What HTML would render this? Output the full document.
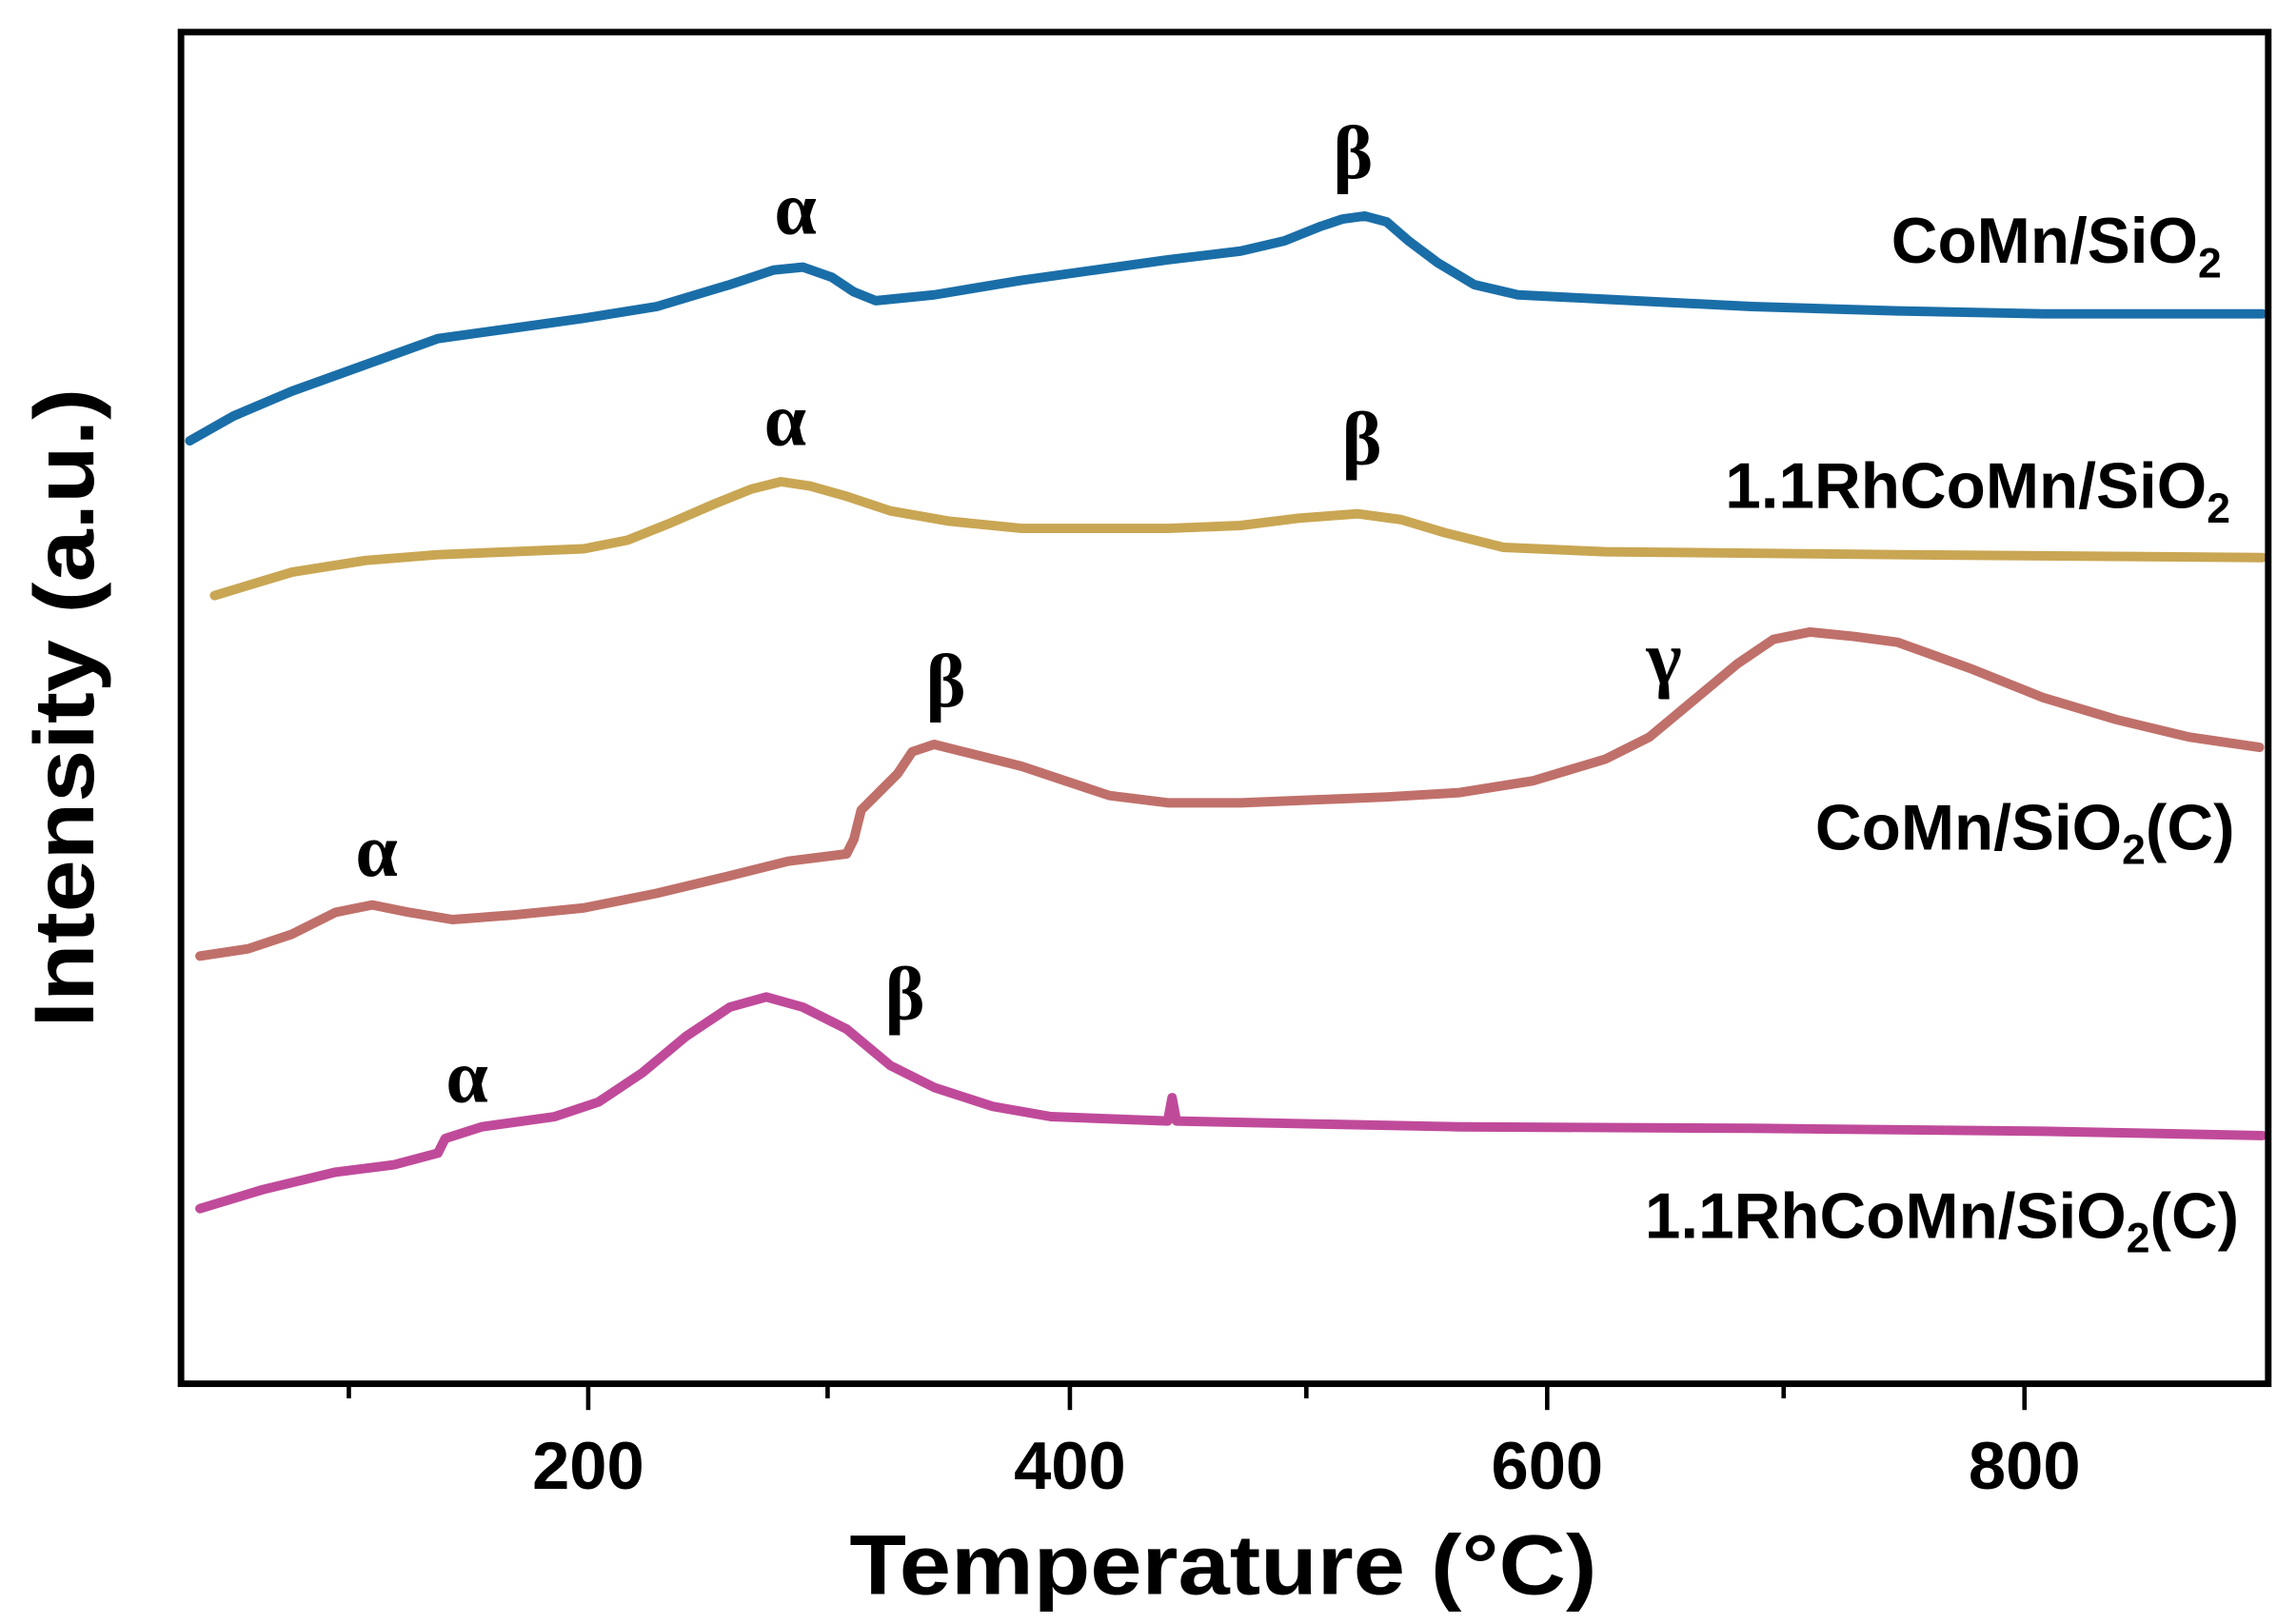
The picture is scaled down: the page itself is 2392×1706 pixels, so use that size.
<!DOCTYPE html>
<html><head><meta charset="utf-8"><style>html,body{margin:0;padding:0;background:#fff}svg{display:block}</style></head>
<body>
<svg width="2392" height="1706" viewBox="0 0 1560 1112.6" xmlns="http://www.w3.org/2000/svg">
<rect x="0" y="0" width="1560" height="1112.6" fill="#fff"/>
<g fill="none" stroke-width="6.5" stroke-linejoin="round" stroke-linecap="round">
<polyline stroke="#1a6ea8" points="130,302 160,285 200,268 250,250 300,232 350,225 400,218 450,210 500,195 530,185 550,183 570,190 585,200 600,206 640,202 700,192 750,185 800,178 850,172 880,165 905,155 920,150 935,148 950,152 965,165 985,180 1010,195 1040,202 1100,205 1200,210 1300,213 1400,215 1550,215"/>
<polyline stroke="#c9a653" points="147,408 200,392 250,384 300,380 350,378 400,376 430,370 460,358 490,345 515,335 535,330 555,333 580,340 610,350 650,357 700,362 750,362 800,362 850,360 890,355 930,352 960,356 990,365 1030,375 1100,378 1300,380 1550,382"/>
<polyline stroke="#c0706a" points="137,655 170,650 200,640 230,625 255,620 280,625 310,630 350,627 400,622 450,612 500,600 540,590 580,585 585,575 590,555 600,545 615,530 625,515 640,510 660,515 700,525 730,535 760,545 800,550 850,550 900,548 950,546 1000,543 1050,535 1100,520 1130,505 1160,480 1190,455 1215,438 1240,433 1270,436 1300,440 1350,458 1400,478 1450,493 1500,505 1548,512"/>
<polyline stroke="#c04a9a" points="137,828 180,815 230,803 270,798 300,790 305,780 330,772 380,765 410,755 440,735 470,710 500,690 525,683 550,690 580,705 610,730 640,745 680,758 720,765 800,768 803,752 806,768 900,770 1000,772 1200,773 1400,775 1550,778"/>
</g>
<rect x="124" y="22" width="1430" height="926" fill="none" stroke="#000" stroke-width="4.5"/>
<g stroke="#000" stroke-width="3">
<line x1="403" y1="948" x2="403" y2="966"/><line x1="733" y1="948" x2="733" y2="966"/><line x1="1060" y1="948" x2="1060" y2="966"/><line x1="1387" y1="948" x2="1387" y2="966"/>
<line x1="239" y1="948" x2="239" y2="958"/><line x1="567" y1="948" x2="567" y2="958"/><line x1="895" y1="948" x2="895" y2="958"/><line x1="1222" y1="948" x2="1222" y2="958"/>
</g>
<g font-family="Liberation Sans, sans-serif" font-weight="bold" font-size="46" text-anchor="middle">
<text x="403" y="1020">200</text><text x="733" y="1020">400</text><text x="1060" y="1020">600</text><text x="1387" y="1020">800</text>
</g>
<text x="838" y="1092" font-family="Liberation Sans, sans-serif" font-weight="bold" font-size="58" text-anchor="middle" textLength="512" lengthAdjust="spacingAndGlyphs">Temperature (°C)</text>
<text transform="translate(64,485) rotate(-90)" font-family="Liberation Sans, sans-serif" font-weight="bold" font-size="58" text-anchor="middle" textLength="438" lengthAdjust="spacingAndGlyphs">Intensity (a.u.)</text>
<g font-family="Liberation Serif, serif" font-weight="bold" font-size="52" text-anchor="middle">
<text x="545" y="160" >α</text><text x="927" y="122">β</text>
<text x="538" y="305">α</text><text x="933" y="318">β</text>
<text x="648" y="484">β</text><text x="1140" y="468">γ</text>
<text x="258" y="600">α</text>
<text x="320" y="755">α</text><text x="620" y="698">β</text>
</g>
<g font-family="Liberation Sans, sans-serif" font-weight="bold" font-size="44" text-anchor="end">
<text x="1522" y="180">CoMn/SiO<tspan font-size="29" dy="10">2</tspan></text>
<text x="1528" y="348">1.1RhCoMn/SiO<tspan font-size="29" dy="10">2</tspan></text>
<text x="1531" y="582">CoMn/SiO<tspan font-size="29" dy="10">2</tspan><tspan dy="-10">(C)</tspan></text>
<text x="1534" y="848">1.1RhCoMn/SiO<tspan font-size="29" dy="10">2</tspan><tspan dy="-10">(C)</tspan></text>
</g>
</svg>
</body></html>
